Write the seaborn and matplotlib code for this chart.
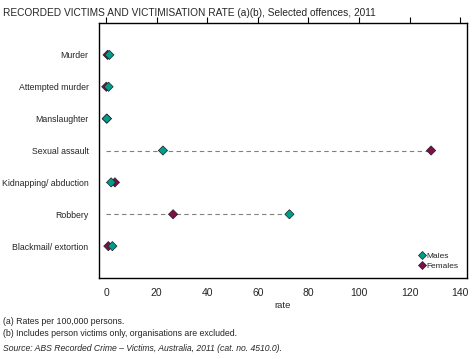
import numpy as np
import pandas as pd
import seaborn as sns
import matplotlib.pyplot as plt
from matplotlib.lines import Line2D

offences = ['Murder', 'Attempted murder', 'Manslaughter', 'Sexual assault',
            'Kidnapping/ abduction', 'Robbery', 'Blackmail/ extortion']
males = [1.3, 1.0, 0.3, 22.5, 2.0, 72.5, 2.5]
females = [0.6, 0.1, 0.3, 128.5, 3.5, 26.5, 0.9]

male_col = '#009C8C'
female_col = '#7F0F45'


def main():
    sns.set_style('white')
    plt.rcParams['font.family'] = ['Liberation Sans', 'DejaVu Sans']
    plt.rcParams['font.size'] = 7

    # females first so the male markers sit on top
    data = pd.DataFrame({'Offence': offences * 2,
                         'Rate': females + males,
                         'Sex': ['Females'] * len(offences) + ['Males'] * len(offences)})
    data['pos'] = list(range(len(offences))) * 2

    fig = plt.figure(figsize=(4.72, 3.59), dpi=100)
    ax = fig.add_axes([0.2097, 0.2256, 0.7797, 0.7103])

    # dashed guide from zero out to the larger value
    top = np.maximum(males, females)
    ax.hlines(range(len(offences)), 0, top, colors='#808080',
              linestyles=(0, (4, 3)), linewidth=0.8, zorder=1)

    sns.scatterplot(data=data, x='Rate', y='pos', hue='Sex',
                    palette={'Males': male_col, 'Females': female_col},
                    marker='D', s=22, edgecolor='#202020', linewidth=0.5,
                    ax=ax, zorder=3, legend=False)

    ax.set_xlim(-2.8, 142.7)
    ax.set_ylim(7, -1)
    ax.set_xticks(range(0, 141, 20))
    ax.set_yticks(range(len(offences)))
    ax.set_yticklabels(offences)
    ax.set_ylabel('')
    ax.set_xlabel('rate', fontsize=6.8, labelpad=2)
    ax.tick_params(axis='x', top=True, bottom=False, labelbottom=True,
                   labeltop=False, direction='out', length=4, width=0.8,
                   color='black', labelsize=7.5, pad=3)
    ax.tick_params(axis='y', left=False, labelsize=6.3, pad=4)
    for s in ax.spines.values():
        s.set_color('black')
        s.set_linewidth(1)

    handles = [Line2D([], [], marker='D', linestyle='', markersize=4,
                      markerfacecolor=male_col, markeredgecolor='#202020',
                      markeredgewidth=0.5, label='Males'),
               Line2D([], [], marker='D', linestyle='', markersize=4,
                      markerfacecolor=female_col, markeredgecolor='#202020',
                      markeredgewidth=0.5, label='Females')]
    ax.legend(handles=handles, loc='lower right', frameon=False, fontsize=6,
              handletextpad=0.1, labelspacing=0.2, borderaxespad=0.6,
              handlelength=1)

    fig.text(0.006, 0.978, 'RECORDED VICTIMS AND VICTIMISATION RATE (a)(b), Selected offences, 2011',
             fontsize=7.3, va='top', ha='left')
    fig.text(0.006, 0.105, '(a) Rates per 100,000 persons.', fontsize=6.3, va='center')
    fig.text(0.006, 0.072, '(b) Includes person victims only, organisations are excluded.',
             fontsize=6.3, va='center')
    fig.text(0.006, 0.030, 'Source: ABS Recorded Crime \u2013 Victims, Australia, 2011 (cat. no. 4510.0).',
             fontsize=6.2, va='center', style='italic')

    plt.savefig('out.png', dpi=100)


if __name__ == '__main__':
    main()
